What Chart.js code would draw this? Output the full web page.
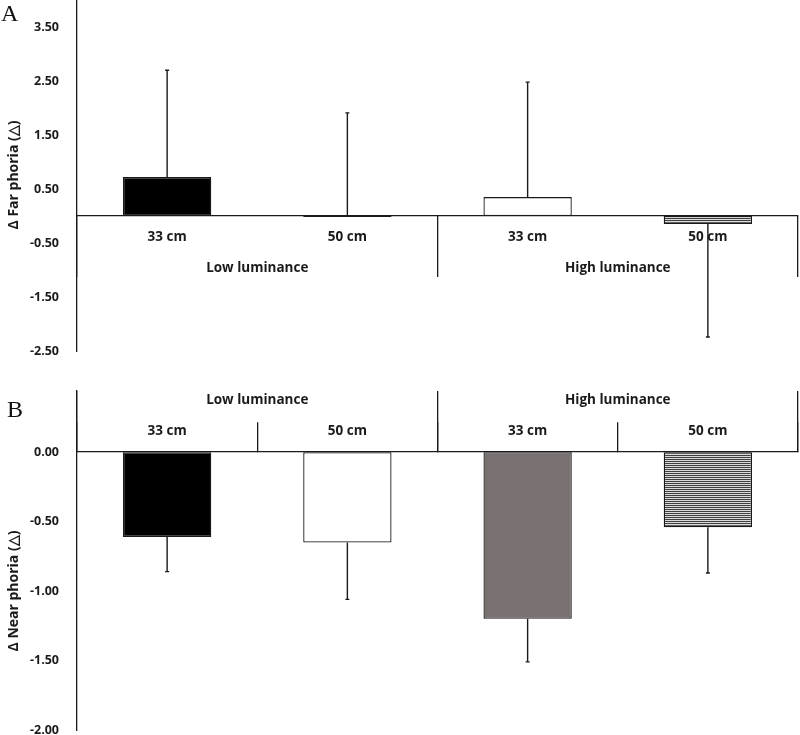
<!DOCTYPE html>
<html>
<head>
<meta charset="utf-8">
<script src="https://cdn.jsdelivr.net/npm/chart.js"></script>
<style>
  body { margin: 0; background: #fff; width: 800px; height: 735px; position: relative; overflow: hidden; }
  canvas { position: absolute; left: 0; }
  #chartA { top: 0; }
  #chartB { top: 365px; }
  .panel { position: absolute; font-family: "Liberation Serif", serif; font-size: 24px; color: #111; line-height: 24px; }
</style>
</head>
<body>
<canvas id="chartA" width="800" height="365"></canvas>
<canvas id="chartB" width="800" height="370"></canvas>
<div class="panel" style="left:1px; top:1px;">A</div>
<div class="panel" style="left:7px; top:397px;">B</div>
<script>
// categories
const distances = ['33 cm', '50 cm', '33 cm', '50 cm'];
const groups = ['Low luminance', 'High luminance'];

// panel A - far phoria change (mean, and where the error bar ends)
const farMean = [0.72, -0.02, 0.35, -0.15];
const farErrEnd = [2.70, 1.91, 2.48, -2.24];
const farTicks = [3.5, 2.5, 1.5, 0.5, -0.5, -1.5, -2.5];

// panel B - near phoria change
const nearMean = [-0.61, -0.65, -1.20, -0.54];
const nearErrEnd = [-0.86, -1.06, -1.51, -0.87];
const nearTicks = [0, -0.5, -1.0, -1.5, -2.0];

const labelFont = { family: '"Open Sans", sans-serif', size: 13.5, weight: 'bold' };
const tickFont = { family: '"Open Sans", sans-serif', size: 12.5, weight: 'bold' };
const ink = '#1a1a1a';

// horizontal stripes for the last bar
function stripes() {
    const c = document.createElement('canvas');
    c.width = 4; c.height = 2;
    const g = c.getContext('2d');
    g.fillStyle = '#dadada'; g.fillRect(0, 0, 4, 2);
    g.fillStyle = '#404040'; g.fillRect(0, 0, 4, 1);
    return g.createPattern(c, 'repeat');
}

// error bars, drawn from the bar end to the value in errEnd
const errorBars = {
    id: 'errorBars',
    afterDatasetsDraw(chart, args, opts) {
        const ctx = chart.ctx;
        const y = chart.scales.y;
        const meta = chart.getDatasetMeta(0);
        ctx.save();
        ctx.strokeStyle = ink;
        ctx.lineWidth = 1.4;
        meta.data.forEach((bar, i) => {
            const y0 = y.getPixelForValue(opts.mean[i]);
            const y1 = y.getPixelForValue(opts.ends[i]);
            ctx.beginPath();
            ctx.moveTo(bar.x, y0);
            ctx.lineTo(bar.x, y1);
            ctx.moveTo(bar.x - 2, y1);
            ctx.lineTo(bar.x + 2, y1);
            ctx.stroke();
        });
        ctx.restore();
    }
};

// rotated y axis title
const yTitle = {
    id: 'yTitle',
    afterDraw(chart, args, opts) {
        const ctx = chart.ctx;
        ctx.save();
        ctx.translate(opts.x, opts.y);
        ctx.rotate(-Math.PI / 2);
        ctx.font = 'bold 14px "Open Sans", sans-serif';
        ctx.fillStyle = ink;
        ctx.textAlign = 'center';
        ctx.textBaseline = 'middle';
        ctx.fillText(opts.text, 0, 0);
        ctx.restore();
    }
};

function noPadding(scale) {
    scale.paddingTop = 0;
    scale.paddingBottom = 0;
    scale.paddingLeft = 0;
    scale.paddingRight = 0;
}

function makeChart(id, cfg) {
    const barColors = [ '#000000', '#ffffff', cfg.thirdColor, stripes() ];
    return new Chart(document.getElementById(id), {
        type: 'bar',
        data: {
            labels: distances,
            datasets: [{
                data: cfg.mean,
                backgroundColor: barColors,
                borderColor: ink,
                borderWidth: 1.3,
                borderSkipped: false,
                categoryPercentage: 1,
                barPercentage: 0.49
            }]
        },
        plugins: [errorBars, yTitle],
        options: {
            responsive: false,
            animation: false,
            events: [],
            layout: { padding: cfg.padding },
            plugins: {
                legend: { display: false },
                tooltip: { enabled: false },
                errorBars: { mean: cfg.mean, ends: cfg.ends },
                yTitle: cfg.title
            },
            scales: {
                y: {
                    min: cfg.min,
                    max: cfg.max,
                    afterBuildTicks: s => { s.ticks = cfg.ticks.map(v => ({ value: v })); },
                    afterFit: s => { s.width = 77; noPadding(s); },
                    grid: { display: false, drawTicks: false },
                    border: { display: true, color: ink, width: 1.3 },
                    ticks: {
                        padding: 18,
                        color: ink,
                        font: tickFont,
                        callback: v => Number(v).toFixed(2)
                    }
                },
                x: {
                    type: 'category',
                    position: { y: 0 },
                    offset: true,
                    afterFit: noPadding,
                    grid: {
                        display: cfg.subTick !== 0,
                        offset: true,
                        drawOnChartArea: false,
                        drawTicks: cfg.subTick !== 0,
                        tickLength: cfg.subTick,
                        color: ink,
                        lineWidth: 1.3
                    },
                    border: { display: true, color: ink, width: 1.3 },
                    ticks: { padding: cfg.subPad, color: ink, font: labelFont, maxRotation: 0 }
                },
                x2: {
                    type: 'category',
                    labels: groups,
                    position: { y: 0 },
                    offset: true,
                    afterFit: noPadding,
                    grid: {
                        display: true,
                        offset: true,
                        drawOnChartArea: false,
                        drawTicks: true,
                        tickLength: cfg.groupTick,
                        color: ink,
                        lineWidth: 1.3
                    },
                    border: { display: false },
                    ticks: { padding: cfg.groupPad, color: ink, font: labelFont, maxRotation: 0 }
                }
            }
        }
    });
}

makeChart('chartA', {
    mean: farMean, ends: farErrEnd, ticks: farTicks,
    min: -2.5, max: 4.0,
    thirdColor: '#ffffff',
    padding: { left: 0, right: 2, top: 0, bottom: 14 },
    subTick: 0, subPad: 12.9,
    groupTick: 61, groupPad: -17.1,
    title: { text: 'Δ Far phoria (△)', x: 14, y: 175 }
});

makeChart('chartB', {
    mean: nearMean, ends: nearErrEnd, ticks: nearTicks,
    min: -2.0, max: 0.44,
    thirdColor: '#787170',
    padding: { left: 0, right: 2, top: 26, bottom: 5 },
    subTick: -30, subPad: 0.9,
    groupTick: -61, groupPad: 0.9,
    title: { text: 'Δ Near phoria (△)', x: 14, y: 226 }
});
</script>
</body>
</html>
